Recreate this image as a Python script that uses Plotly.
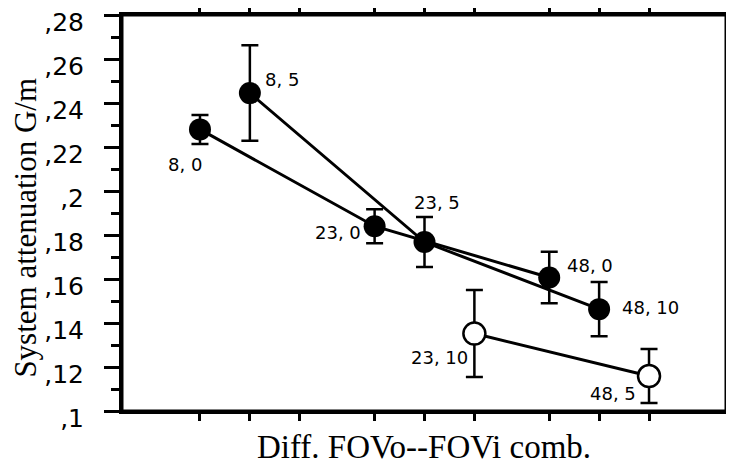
import plotly.graph_objects as go

# ---- data ----
x_tick_pos = [1, 2, 3, 4.5, 5.5, 6.5, 8, 9, 10]

s1_x = [1, 4.5, 8]
s1_y = [0.228, 0.184, 0.1607]
s1_err = [0.0066, 0.0077, 0.0117]
s1_labels = ["8, 0", "23, 0", "48, 0"]

s2_x = [2, 5.5, 9]
s2_y = [0.2445, 0.1768, 0.1463]
s2_err = [0.0217, 0.0114, 0.0123]
s2_labels = ["8, 5", "23, 5", "48, 10"]

s3_x = [6.5, 10]
s3_y = [0.1352, 0.1159]
s3_err = [0.0198, 0.0123]
s3_labels = ["23, 10", "48, 5"]

y_tick_vals = [0.10, 0.12, 0.14, 0.16, 0.18, 0.20, 0.22, 0.24, 0.26, 0.28]
y_tick_text = [",1", ",12", ",14", ",16", ",18", ",2", ",22", ",24", ",26", ",28"]
y_minor_vals = [0.10, 0.11, 0.12, 0.13, 0.14, 0.15, 0.16, 0.17, 0.18, 0.19,
                0.20, 0.21, 0.22, 0.23, 0.24, 0.25, 0.26, 0.27, 0.28]

x_title = "Diff. FOVo--FOVi comb."
y_title = "System attenuation G/m"

# label pixel offsets (style)
s1_off = [(-15, -35), (-37, -6), (41, 12)]
s2_off = [(32, 14), (12, 40), (51, 2)]
s3_off = [(-35, -24), (-36, -17)]

fig = go.Figure()

def add_series(xs, ys, errs, filled, xa, ya):
    fig.add_trace(go.Scatter(
        x=xs, y=ys, mode="lines+markers", xaxis=xa, yaxis=ya,
        line=dict(color="black", width=3),
        marker=dict(size=22, color="black" if filled else "white",
                    line=dict(color="black", width=2.5 if not filled else 0)),
        error_y=dict(type="data", array=errs, visible=True, color="black",
                     thickness=2.5, width=8.5),
        showlegend=False, cliponaxis=False,
    ))

add_series(s1_x, s1_y, s1_err, True, "x", "y")
add_series(s2_x, s2_y, s2_err, True, "x2", "y")
add_series(s3_x, s3_y, s3_err, False, "x", "y2")

annots = []
for xs, ys, labs, offs in [(s1_x, s1_y, s1_labels, s1_off),
                           (s2_x, s2_y, s2_labels, s2_off),
                           (s3_x, s3_y, s3_labels, s3_off)]:
    for x, y, t, (dx, dy) in zip(xs, ys, labs, offs):
        annots.append(dict(x=x, y=y, xref="x", yref="y", text=t,
                           showarrow=False, xshift=dx, yshift=dy,
                           font=dict(family="DejaVu Sans", size=18, color="black")))

annots.append(dict(text=y_title, xref="paper", yref="paper", x=-0.159, y=0.463,
                   xanchor="center", yanchor="middle", textangle=-90, showarrow=False,
                   font=dict(family="Liberation Serif", size=31, color="black")))

XR = [-0.563, 11.543]
YR = [0.1, 0.28]

fig.update_layout(
    width=726, height=457,
    margin=dict(l=114, r=8, t=7, b=54, autoexpand=False),
    paper_bgcolor="white", plot_bgcolor="white",
    annotations=annots,
    shapes=[dict(type="rect", xref="paper", yref="paper", x0=0, y0=0, x1=1, y1=1,
                 line=dict(color="black", width=3), layer="above")],
    xaxis=dict(
        range=XR, tickvals=x_tick_pos, showticklabels=False, automargin=False,
        ticks="outside", ticklen=7, tickwidth=2.5, tickcolor="black",
        showline=True, linewidth=3, linecolor="black",
        showgrid=False, zeroline=False,
        title=dict(text=x_title, standoff=20,
                   font=dict(family="Liberation Serif", size=33, color="black")),
    ),
    xaxis2=dict(
        range=XR, overlaying="x", side="top", anchor="y", tickvals=x_tick_pos,
        showticklabels=False, ticks="outside", ticklen=6, tickwidth=2.5,
        tickcolor="black", showline=True, linewidth=3, linecolor="black",
        showgrid=False, zeroline=False, automargin=False,
    ),
    yaxis=dict(
        range=YR, tickvals=y_tick_vals, ticktext=y_tick_text, automargin=False,
        ticks="outside", ticklen=15, tickwidth=2.5, tickcolor="black",
        minor=dict(tickvals=y_minor_vals, ticks="outside", ticklen=8,
                   tickwidth=2.5, tickcolor="black", showgrid=False),
        showline=True, linewidth=3, linecolor="black",
        showgrid=False, zeroline=False, ticklabelstandoff=15,
        ticklabelshift=7, ticklabeloverflow="allow",
        tickfont=dict(family="DejaVu Sans", size=25, color="black"),
    ),
    yaxis2=dict(
        range=YR, overlaying="y", side="right", anchor="x", tickvals=y_minor_vals,
        showticklabels=False, ticks="outside", ticklen=7, tickwidth=2.5,
        tickcolor="black", showline=True, linewidth=3, linecolor="black",
        showgrid=False, zeroline=False, automargin=False,
    ),
)

fig.write_html("out.html")
